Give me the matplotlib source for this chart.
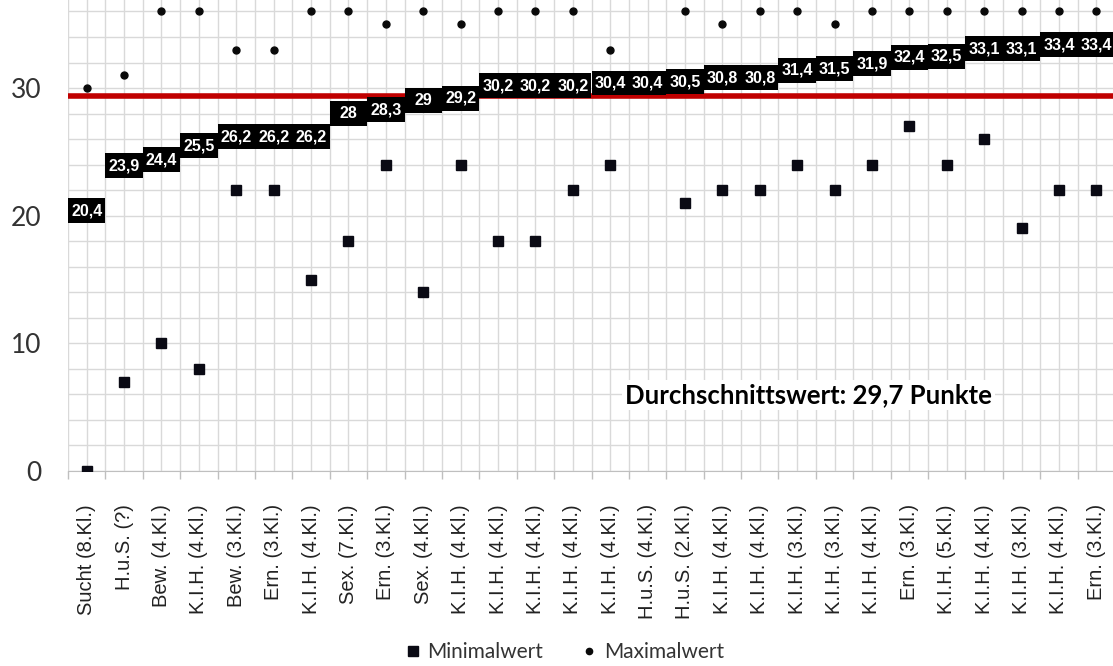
import numpy as np
import matplotlib.pyplot as plt
from matplotlib.lines import Line2D

# Daten
kategorien = ['Sucht (8.Kl.)', 'H.u.S. (?)', 'Bew. (4.Kl.)', 'K.I.H. (4.Kl.)', 'Bew. (3.Kl.)',
              'Ern. (3.Kl.)', 'K.I.H. (4.Kl.)', 'Sex. (7.Kl.)', 'Ern. (3.Kl.)', 'Sex. (4.Kl.)',
              'K.I.H. (4.Kl.)', 'K.I.H. (4.Kl.)', 'K.I.H. (4.Kl.)', 'K.I.H. (4.Kl.)', 'K.I.H. (4.Kl.)',
              'H.u.S. (4.Kl.)', 'H.u.S. (2.Kl.)', 'K.I.H. (4.Kl.)', 'K.I.H. (4.Kl.)', 'K.I.H. (3.Kl.)',
              'K.I.H. (3.Kl.)', 'K.I.H. (4.Kl.)', 'Ern. (3.Kl.)', 'K.I.H. (5.Kl.)', 'K.I.H. (4.Kl.)',
              'K.I.H. (3.Kl.)', 'K.I.H. (4.Kl.)', 'Ern. (3.Kl.)']
mittelwert = [20.4, 23.9, 24.4, 25.5, 26.2, 26.2, 26.2, 28, 28.3, 29, 29.2, 30.2, 30.2, 30.2,
              30.4, 30.4, 30.5, 30.8, 30.8, 31.4, 31.5, 31.9, 32.4, 32.5, 33.1, 33.1, 33.4, 33.4]
minimalwert = [0, 7, 10, 8, 22, 22, 15, 18, 24, 14, 24, 18, 18, 22, 24,
               30, 21, 22, 22, 24, 22, 24, 27, 24, 26, 19, 22, 22]
maximalwert = [30, 31, 36, 36, 33, 33, 36, 36, 35, 36, 35, 36, 36, 36, 33,
               31, 36, 35, 36, 36, 35, 36, 36, 36, 36, 36, 36, 36]
durchschnitt_text = '29,7'
durchschnitt_linie = 29.4

fig = plt.figure(figsize=(11.13, 6.66), dpi=100)
ax = fig.add_axes([68 / 1113, 195 / 666, 1047 / 1113, 471 / 666])

x = np.arange(len(kategorien))

# Minimal- und Maximalwerte
ax.plot(x, minimalwert, 's', color='#0a0a14', markersize=7.5, zorder=3)
ax.plot(x, maximalwert, 'o', color='#0a0a0a', markersize=5, zorder=3)

# Durchschnittslinie
ax.axhline(durchschnitt_linie, color='#c00000', linewidth=4, zorder=2)

# Mittelwert-Beschriftungen (schwarze Kästchen)
for i, m in enumerate(mittelwert):
    ax.bar(i, 1.95, bottom=m - 0.975, width=1.0, color='black', zorder=4)
    txt = f'{m:g}'.replace('.', ',')
    ax.text(i, m, txt, ha='center', va='center', color='white', fontsize=11.5,
            fontweight='bold', family='Liberation Sans', zorder=5)

ax.text(19.3, 5.95, f'Durchschnittswert: {durchschnitt_text} Punkte', ha='center', va='center',
        fontsize=18.5, fontweight='bold', family='Lato', color='black', zorder=5,
        bbox=dict(facecolor='white', edgecolor='none', pad=2))

# Achsen
ax.set_xlim(-0.5, len(kategorien) - 0.5)
ax.set_ylim(0, 36.9)
ax.set_xticks(x)
ax.set_xticklabels(kategorien, rotation=90, fontsize=14.5, family='Liberation Sans', color='#222222')
ax.set_xticks(np.arange(-0.5, len(kategorien), 1.0), minor=True)
ax.set_yticks(np.arange(0, 37, 10))
ax.set_yticks(np.arange(0, 37, 2), minor=True)
ax.set_yticklabels(['0', '10', '20', '30'], fontsize=19, family='Lato', color='#333333')
ax.tick_params(axis='x', which='major', length=0, pad=24)
ax.tick_params(axis='x', which='minor', length=6, color='#bfbfbf', width=1)
ax.tick_params(axis='y', which='both', length=0, pad=19)

ax.grid(True, which='both', color='#d9d9d9', linewidth=1, zorder=0)
ax.set_axisbelow(True)
for s in ['top', 'right', 'left']:
    ax.spines[s].set_visible(False)
ax.spines['bottom'].set_color('#bfbfbf')

# Legende
handles = [Line2D([], [], marker='s', color='#0a0a14', linestyle='none', markersize=7, label='Minimalwert'),
           Line2D([], [], marker='o', color='#0a0a0a', linestyle='none', markersize=4.5, label='Maximalwert')]
fig.legend(handles=handles, loc='center', bbox_to_anchor=(0.505, 1 - 652 / 666), ncol=2, frameon=False,
           prop={'family': 'Lato', 'size': 15}, handletextpad=0.1, columnspacing=1.6, handlelength=1.2,
           labelcolor='#333333')

plt.savefig('out.png', dpi=100)
